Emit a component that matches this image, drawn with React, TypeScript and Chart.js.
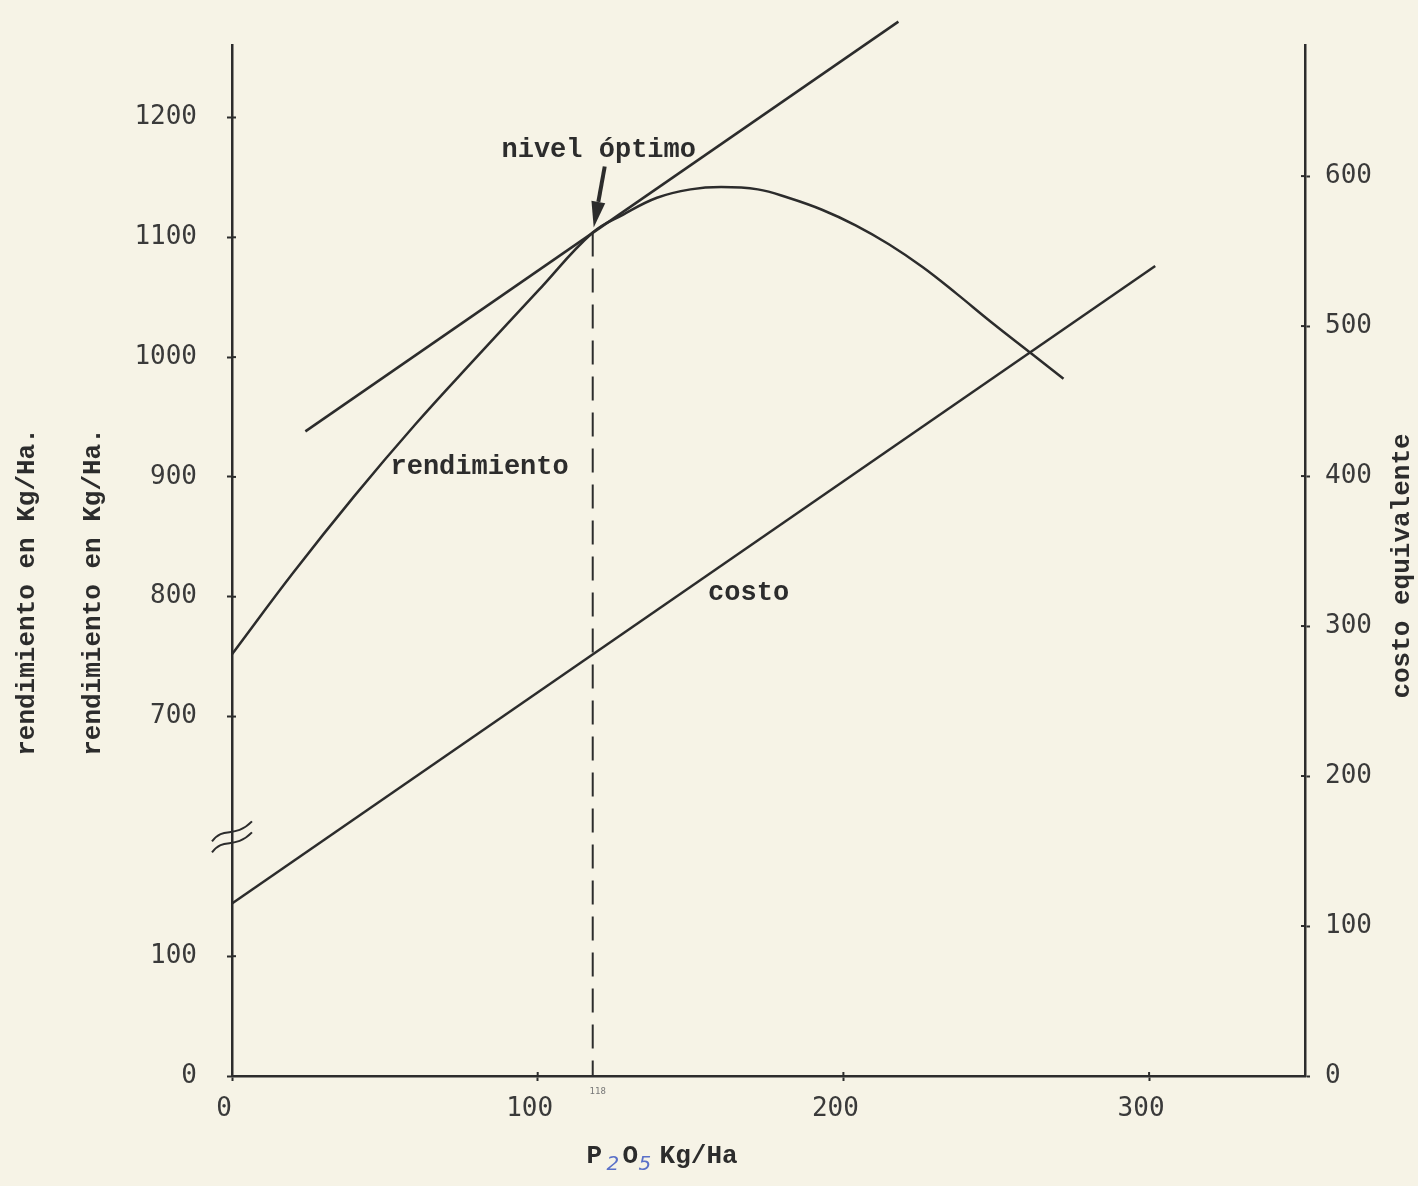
import React, { useEffect, useRef } from "react";
import { Chart, registerables } from "chart.js";

Chart.register(...registerables);

// ---------- data ----------
const xTickValues = [0, 100, 200, 300];
const yieldTickValues = [0, 100, 700, 800, 900, 1000, 1100, 1200];
const costTickValues = [0, 100, 200, 300, 400, 500, 600];

// P2O5 dose (kg/ha) and yield (kg/ha)
const doseX = [0, 20, 40, 60, 80, 100, 118, 128, 139, 150, 160, 172, 182, 193, 204, 215, 226, 237, 248, 262, 272];
const yieldKg = [752, 820, 884, 944, 1000, 1055, 1104, 1119, 1133, 1140, 1142, 1140, 1133, 1123, 1110, 1094, 1075, 1053, 1030, 1002, 982];

// tangent (price ratio) line
const tangentX = [24, 218];
const tangentKg = [938, 1280];

// cost line (right axis)
const costX = [0, 302];
const costValue = [115, 540];

// optimum
const optimumDose = 118;
const optimumYield = 1104;

// ---------- styles ----------
const PAPER = "#f6f3e6";
const INK = "#2c2c2c";
const TICK_INK = "#3a3a3a";
const BLUE = "#5a70c8";
const TYPE = "'Liberation Mono', 'DejaVu Sans Mono', monospace";
const NUM = "'DejaVu Sans Mono', 'Liberation Mono', monospace";

// broken left axis: 0 and 100 at bottom, then 700..1200
const toAxis = (kg: number) => (kg >= 600 ? 3 + (kg - 700) / 100 : kg / 100);

const paperPlugin = {
  id: "paper",
  beforeDraw(chart: any) {
    const { ctx, width, height } = chart;
    ctx.save();
    ctx.fillStyle = PAPER;
    ctx.fillRect(0, 0, width, height);
    ctx.restore();
  },
};

const decorPlugin = {
  id: "decor",
  afterDraw(chart: any) {
    const { ctx, scales, chartArea } = chart;
    const x = scales.x;
    const y = scales.y;
    const y2 = scales.y2;
    ctx.save();
    ctx.strokeStyle = INK;
    ctx.fillStyle = INK;
    ctx.lineWidth = 2;

    // inner tick stubs
    y.ticks.forEach((t: any) => {
      const p = y.getPixelForValue(t.value);
      ctx.beginPath();
      ctx.moveTo(chartArea.left, p);
      ctx.lineTo(chartArea.left + 4, p);
      ctx.stroke();
    });
    y2.ticks.forEach((t: any) => {
      const p = y2.getPixelForValue(t.value);
      ctx.beginPath();
      ctx.moveTo(chartArea.right, p);
      ctx.lineTo(chartArea.right - 4, p);
      ctx.stroke();
    });
    x.ticks.forEach((t: any) => {
      const p = x.getPixelForValue(t.value);
      ctx.beginPath();
      ctx.moveTo(p, chartArea.bottom);
      ctx.lineTo(p, chartArea.bottom - 4);
      ctx.stroke();
    });

    // axis break mark
    const by = y.getPixelForValue(2);
    const bx = chartArea.left;
    ctx.lineWidth = 2;
    [-5, 6].forEach((off) => {
      ctx.beginPath();
      ctx.moveTo(bx - 20, by + off + 10);
      ctx.bezierCurveTo(bx - 8, by + off - 6, bx + 2, by + off + 8, bx + 20, by + off - 10);
      ctx.stroke();
    });

    // optimum arrow
    const ox = x.getPixelForValue(optimumDose);
    const oy = y.getPixelForValue(toAxis(optimumYield));
    const tipX = ox + 1;
    const tipY = oy - 5;
    const tailX = ox + 12;
    const tailY = oy - 66;
    const ang = Math.atan2(tipY - tailY, tipX - tailX);
    const headLen = 26;
    const headW = 7;
    const baseX = tipX - headLen * Math.cos(ang);
    const baseY = tipY - headLen * Math.sin(ang);
    ctx.lineWidth = 4;
    ctx.beginPath();
    ctx.moveTo(tailX, tailY);
    ctx.lineTo(baseX, baseY);
    ctx.stroke();
    ctx.beginPath();
    ctx.moveTo(tipX, tipY);
    ctx.lineTo(baseX + headW * Math.sin(ang), baseY - headW * Math.cos(ang));
    ctx.lineTo(baseX - headW * Math.sin(ang), baseY + headW * Math.cos(ang));
    ctx.closePath();
    ctx.fill();

    // annotation texts
    ctx.font = `bold 27px ${TYPE}`;
    ctx.textAlign = "center";
    ctx.textBaseline = "middle";
    ctx.fillText("nivel óptimo", ox + 6, oy - 82);
    ctx.fillText("rendimiento", x.getPixelForValue(81), y.getPixelForValue(toAxis(908)));
    ctx.fillText("costo", x.getPixelForValue(169), y2.getPixelForValue(322));

    // small "118" mark label
    ctx.font = `9px ${NUM}`;
    ctx.fillStyle = "#777";
    ctx.fillText(String(optimumDose), ox + 5, chartArea.bottom + 16);

    // x-axis title: P2O5 Kg/Ha (subscripts hand-written in blue)
    const baseLine = chartArea.bottom + 87;
    const cx = x.getPixelForValue(116);
    ctx.textAlign = "left";
    ctx.textBaseline = "alphabetic";
    ctx.fillStyle = INK;
    ctx.font = `bold 26px ${TYPE}`;
    ctx.fillText("P", cx, baseLine);
    ctx.fillStyle = BLUE;
    ctx.font = `italic 20px 'DejaVu Sans', sans-serif`;
    ctx.fillText("2", cx + 20, baseLine + 7);
    ctx.fillStyle = INK;
    ctx.font = `bold 26px ${TYPE}`;
    ctx.fillText("O", cx + 36, baseLine);
    ctx.fillStyle = BLUE;
    ctx.font = `italic 20px 'DejaVu Sans', sans-serif`;
    ctx.fillText("5", cx + 52, baseLine + 7);
    ctx.fillStyle = INK;
    ctx.font = `bold 26px ${TYPE}`;
    ctx.fillText("Kg/Ha", cx + 73, baseLine);

    // rotated axis titles
    const rot = (text: string, px: number, py: number) => {
      ctx.save();
      ctx.translate(px, py);
      ctx.rotate(-Math.PI / 2);
      ctx.textAlign = "center";
      ctx.textBaseline = "middle";
      ctx.fillStyle = INK;
      ctx.font = `bold 26px ${TYPE}`;
      ctx.fillText(text, 0, 0);
      ctx.restore();
    };
    rot("rendimiento en Kg/Ha.", 27, 592);
    rot("rendimiento en Kg/Ha.", 93, 592);
    rot("costo equivalente", 1402, 566);

    ctx.restore();
  },
};

export default function App() {
  const ref = useRef<HTMLCanvasElement>(null);

  useEffect(() => {
    document.body.style.margin = "0";
    document.body.style.background = PAPER;
    const canvas = ref.current;
    if (!canvas) return;

    const lineStyle = {
      borderColor: INK,
      borderWidth: 2.5,
      pointRadius: 0,
      fill: false,
    };

    const chart = new Chart(canvas, {
      type: "line",
      data: {
        datasets: [
          {
            ...lineStyle,
            label: "rendimiento",
            data: doseX.map((d, i) => ({ x: d, y: toAxis(yieldKg[i]) })),
            yAxisID: "y",
            tension: 0.4,
          },
          {
            ...lineStyle,
            label: "tangente",
            data: tangentX.map((d, i) => ({ x: d, y: toAxis(tangentKg[i]) })),
            yAxisID: "y",
            clip: false,
          },
          {
            ...lineStyle,
            label: "costo",
            data: costX.map((d, i) => ({ x: d, y: costValue[i] })),
            yAxisID: "y2",
          },
          {
            ...lineStyle,
            label: "nivel óptimo",
            borderWidth: 2,
            borderDash: [24, 12],
            data: [
              { x: optimumDose, y: toAxis(optimumYield) },
              { x: optimumDose, y: 0 },
            ],
            yAxisID: "y",
          },
        ] as any,
      },
      options: {
        responsive: false,
        animation: false,
        devicePixelRatio: 1,
        layout: { padding: { top: 40, left: 0, right: 0, bottom: 0 } },
        plugins: {
          legend: { display: false },
          tooltip: { enabled: false },
          title: { display: false },
        },
        scales: {
          x: {
            type: "linear",
            min: 0,
            max: 351,
            afterFit: (s: any) => {
              s.height = 110;
            },
            afterBuildTicks: (s: any) => {
              s.ticks = xTickValues.map((v) => ({ value: v }));
            },
            ticks: {
              autoSkip: false,
              maxRotation: 0,
              padding: 13,
              labelOffset: -8,
              color: TICK_INK,
              font: { family: NUM, size: 26 },
              callback: (v: any) => String(v),
            },
            grid: {
              drawOnChartArea: false,
              drawTicks: true,
              tickLength: 5,
              tickWidth: 2,
              tickColor: INK,
            },
            border: { display: true, color: INK, width: 2.5 },
          },
          y: {
            type: "linear",
            position: "left",
            min: 0,
            max: 8.6,
            afterFit: (s: any) => {
              s.width = 232;
            },
            afterBuildTicks: (s: any) => {
              s.ticks = yieldTickValues.map((v) => ({ value: toAxis(v) }));
            },
            ticks: {
              autoSkip: false,
              padding: 30,
              color: TICK_INK,
              font: { family: NUM, size: 26 },
              callback: (_v: any, i: number) => String(yieldTickValues[i]),
            },
            grid: {
              drawOnChartArea: false,
              drawTicks: true,
              tickLength: 5,
              tickWidth: 2,
              tickColor: INK,
            },
            border: { display: true, color: INK, width: 2.5 },
          },
          y2: {
            type: "linear",
            position: "right",
            min: 0,
            max: 687,
            afterFit: (s: any) => {
              s.width = 113;
            },
            afterBuildTicks: (s: any) => {
              s.ticks = costTickValues.map((v) => ({ value: v }));
            },
            ticks: {
              autoSkip: false,
              padding: 15,
              color: TICK_INK,
              font: { family: NUM, size: 26 },
              callback: (_v: any, i: number) => String(costTickValues[i]),
            },
            grid: {
              drawOnChartArea: false,
              drawTicks: true,
              tickLength: 5,
              tickWidth: 2,
              tickColor: INK,
            },
            border: { display: true, color: INK, width: 2.5 },
          },
        },
      } as any,
      plugins: [paperPlugin, decorPlugin],
    });

    return () => chart.destroy();
  }, []);

  return (
    <div style={{ width: 1418, height: 1186, position: "relative", background: PAPER }}>
      <canvas ref={ref} width={1418} height={1186} style={{ display: "block" }} />
    </div>
  );
}
